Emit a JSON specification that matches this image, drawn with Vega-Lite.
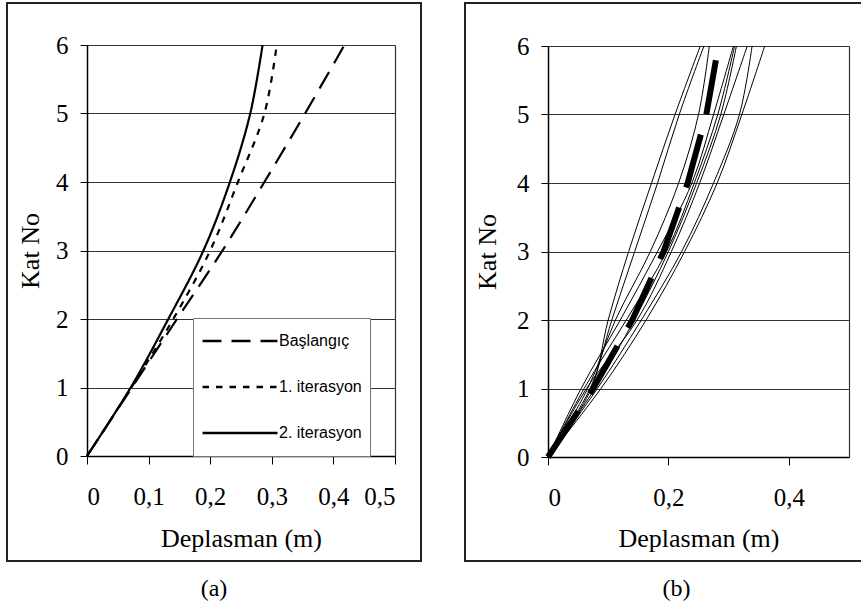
{
  "$schema": "https://vega.github.io/schema/vega-lite/v6.json",
  "padding": {"left": 6, "top": 2, "right": 0, "bottom": 0},
  "autosize": {"type": "pad"},
  "background": "white",
  "spacing": 42,
  "config": {
    "view": {"stroke": "#222", "strokeWidth": 2},
    "axis": {
      "labelFont": "Liberation Serif", "titleFont": "Liberation Serif",
      "labelColor": "black", "titleColor": "black", "titleFontWeight": "normal",
      "labelFontSize": 25, "titleFontSize": 26,
      "domainColor": "black", "domainWidth": 1.5, "tickColor": "black", "tickWidth": 1,
      "gridColor": "#333", "gridOpacity": 1, "gridWidth": 1
    },
    "legend": {"labelFont": "Liberation Sans", "labelFontSize": 16, "labelColor": "black"},
    "title": {"font": "Liberation Serif", "fontSize": 24, "fontWeight": "normal", "color": "black"}
  },
  "datasets": {
    "a": [
      {"s": "Başlangıç", "kat": 0, "d": 0}, {"s": "Başlangıç", "kat": 1, "d": 0.073}, {"s": "Başlangıç", "kat": 2, "d": 0.146},
      {"s": "Başlangıç", "kat": 3, "d": 0.220}, {"s": "Başlangıç", "kat": 4, "d": 0.288}, {"s": "Başlangıç", "kat": 5, "d": 0.354},
      {"s": "Başlangıç", "kat": 6, "d": 0.418},
      {"s": "1. iterasyon", "kat": 0, "d": 0}, {"s": "1. iterasyon", "kat": 1, "d": 0.072}, {"s": "1. iterasyon", "kat": 2, "d": 0.140},
      {"s": "1. iterasyon", "kat": 3, "d": 0.200}, {"s": "1. iterasyon", "kat": 4, "d": 0.245}, {"s": "1. iterasyon", "kat": 5, "d": 0.288},
      {"s": "1. iterasyon", "kat": 6, "d": 0.308},
      {"s": "2. iterasyon", "kat": 0, "d": 0}, {"s": "2. iterasyon", "kat": 1, "d": 0.071}, {"s": "2. iterasyon", "kat": 2, "d": 0.132},
      {"s": "2. iterasyon", "kat": 3, "d": 0.189}, {"s": "2. iterasyon", "kat": 4, "d": 0.232}, {"s": "2. iterasyon", "kat": 5, "d": 0.265},
      {"s": "2. iterasyon", "kat": 6, "d": 0.285}
    ],
    "b": [
      {"id": 1, "kat": 0, "d": 0}, {"id": 1, "kat": 1, "d": 0.072}, {"id": 1, "kat": 2, "d": 0.100}, {"id": 1, "kat": 3, "d": 0.134}, {"id": 1, "kat": 4, "d": 0.172}, {"id": 1, "kat": 5, "d": 0.211}, {"id": 1, "kat": 6, "d": 0.253},
      {"id": 2, "kat": 0, "d": 0}, {"id": 2, "kat": 1, "d": 0.070}, {"id": 2, "kat": 2, "d": 0.106}, {"id": 2, "kat": 3, "d": 0.144}, {"id": 2, "kat": 4, "d": 0.182}, {"id": 2, "kat": 5, "d": 0.218}, {"id": 2, "kat": 6, "d": 0.259},
      {"id": 3, "kat": 0, "d": 0}, {"id": 3, "kat": 1, "d": 0.066}, {"id": 3, "kat": 2, "d": 0.112}, {"id": 3, "kat": 3, "d": 0.170}, {"id": 3, "kat": 4, "d": 0.217}, {"id": 3, "kat": 5, "d": 0.250}, {"id": 3, "kat": 6, "d": 0.268},
      {"id": 4, "kat": 0, "d": 0}, {"id": 4, "kat": 1, "d": 0.055}, {"id": 4, "kat": 2, "d": 0.120}, {"id": 4, "kat": 3, "d": 0.182}, {"id": 4, "kat": 4, "d": 0.239}, {"id": 4, "kat": 5, "d": 0.275}, {"id": 4, "kat": 6, "d": 0.308},
      {"id": 5, "kat": 0, "d": 0}, {"id": 5, "kat": 1, "d": 0.060}, {"id": 5, "kat": 2, "d": 0.130}, {"id": 5, "kat": 3, "d": 0.197}, {"id": 5, "kat": 4, "d": 0.243}, {"id": 5, "kat": 5, "d": 0.282}, {"id": 5, "kat": 6, "d": 0.310},
      {"id": 6, "kat": 0, "d": 0}, {"id": 6, "kat": 1, "d": 0.078}, {"id": 6, "kat": 2, "d": 0.143}, {"id": 6, "kat": 3, "d": 0.200}, {"id": 6, "kat": 4, "d": 0.247}, {"id": 6, "kat": 5, "d": 0.287}, {"id": 6, "kat": 6, "d": 0.313},
      {"id": 7, "kat": 0, "d": 0}, {"id": 7, "kat": 1, "d": 0.064}, {"id": 7, "kat": 2, "d": 0.148}, {"id": 7, "kat": 3, "d": 0.205}, {"id": 7, "kat": 4, "d": 0.252}, {"id": 7, "kat": 5, "d": 0.292}, {"id": 7, "kat": 6, "d": 0.331},
      {"id": 8, "kat": 0, "d": 0}, {"id": 8, "kat": 1, "d": 0.082}, {"id": 8, "kat": 2, "d": 0.155}, {"id": 8, "kat": 3, "d": 0.222}, {"id": 8, "kat": 4, "d": 0.275}, {"id": 8, "kat": 5, "d": 0.318}, {"id": 8, "kat": 6, "d": 0.339},
      {"id": 9, "kat": 0, "d": 0}, {"id": 9, "kat": 1, "d": 0.088}, {"id": 9, "kat": 2, "d": 0.163}, {"id": 9, "kat": 3, "d": 0.227}, {"id": 9, "kat": 4, "d": 0.281}, {"id": 9, "kat": 5, "d": 0.322}, {"id": 9, "kat": 6, "d": 0.360}
    ],
    "bm": [
      {"kat": 0, "d": 0}, {"kat": 1, "d": 0.075}, {"kat": 2, "d": 0.140}, {"kat": 3, "d": 0.192},
      {"kat": 4, "d": 0.232}, {"kat": 5, "d": 0.263}, {"kat": 6, "d": 0.283}
    ]
  },
  "hconcat": [
    {
      "width": 414,
      "height": 558,
      "title": {"text": "(a)", "orient": "bottom", "frame": "group", "offset": 16, "anchor": "middle"},
      "data": {"name": "a"},
      "encoding": {
        "x": {
          "field": "d", "type": "quantitative",
          "scale": {"domain": [0, 0.5], "range": [80, 388], "nice": false, "zero": false},
          "axis": {
            "orient": "bottom", "offset": -105,
            "values": [0, 0.1, 0.2, 0.3, 0.4, 0.5],
            "labelExpr": "replace(format(datum.value, '.1~f'), '.', ',')",
            "labelFont": "Liberation Serif", "labelFontSize": 25, "labelColor": "black",
            "tickSize": 8, "labelPadding": 20,
            "title": "Deplasman (m)", "titleY": 90, "titleBaseline": "alphabetic",
            "titleFont": "Liberation Serif", "titleFontSize": 26,
            "grid": false
          }
        },
        "strokeDash": {
          "field": "s", "type": "nominal",
          "scale": {"domain": ["Başlangıç", "1. iterasyon", "2. iterasyon"], "range": [[19, 10], [6.5, 7], [1, 0]]},
          "legend": {
            "title": null, "orient": "none", "direction": "vertical",
            "legendX": 186, "legendY": 315,
            "symbolType": "stroke", "symbolSize": 5625, "symbolStrokeWidth": 2.6, "symbolStrokeColor": "black",
            "labelFont": "Liberation Sans", "labelFontSize": 16, "labelColor": "black",
            "labelOffset": 0, "labelLimit": 200,
            "padding": 8, "rowPadding": 16, "clipHeight": 30,
            "strokeColor": "#777", "fillColor": "white"
          }
        },
        "order": {"field": "kat", "type": "quantitative"}
      },
      "layer": [
        {
          "transform": [{"filter": "datum.s != '2. iterasyon'"}],
          "mark": {"type": "line", "interpolate": "catmull-rom", "color": "black", "strokeWidth": 2.2},
          "encoding": {
            "y": {
              "field": "kat", "type": "quantitative",
              "scale": {"domain": [0, 6], "range": [453, 42], "nice": false},
              "axis": {
                "orient": "left", "offset": -80, "values": [0, 1, 2, 3, 4, 5, 6],
                "labelFont": "Liberation Serif", "labelFontSize": 25, "labelColor": "black",
                "tickSize": 7, "labelPadding": 12,
                "title": "Kat No", "titleX": -49, "titleBaseline": "alphabetic",
                "titleFont": "Liberation Serif", "titleFontSize": 26,
                "grid": true
              }
            }
          }
        },
        {
          "transform": [{"filter": "datum.s == '2. iterasyon'"}],
          "mark": {"type": "line", "interpolate": "catmull-rom", "color": "black", "strokeWidth": 2.2},
          "encoding": {
            "y": {
              "field": "kat", "type": "quantitative",
              "axis": {
                "orient": "right", "offset": -26, "labels": false, "ticks": false, "grid": false,
                "title": null, "domainColor": "#333", "domainWidth": 1.2
              }
            }
          }
        }
      ],
      "resolve": {"axis": {"y": "independent"}}
    },
    {
      "width": 399,
      "height": 558,
      "title": {"text": "(b)", "orient": "bottom", "frame": "group", "offset": 16, "anchor": "middle", "dx": 12},
      "encoding": {
        "x": {
          "field": "d", "type": "quantitative",
          "scale": {"domain": [0, 0.5], "range": [83, 384], "nice": false, "zero": false},
          "axis": {
            "orient": "bottom", "offset": -104,
            "values": [0, 0.2, 0.4],
            "labelExpr": "replace(format(datum.value, '.1~f'), '.', ',')",
            "labelFont": "Liberation Serif", "labelFontSize": 25, "labelColor": "black",
            "tickSize": 8, "labelPadding": 20,
            "title": "Deplasman (m)", "titleY": 89, "titleBaseline": "alphabetic",
            "titleFont": "Liberation Serif", "titleFontSize": 26,
            "grid": false
          }
        },
        "order": {"field": "kat", "type": "quantitative"}
      },
      "layer": [
        {
          "data": {"name": "b"},
          "mark": {"type": "line", "interpolate": "catmull-rom", "color": "black", "strokeWidth": 1},
          "encoding": {
            "detail": {"field": "id", "type": "nominal"},
            "y": {
              "field": "kat", "type": "quantitative",
              "scale": {"domain": [0, 6], "range": [454, 43], "nice": false},
              "axis": {
                "orient": "left", "offset": -83, "values": [0, 1, 2, 3, 4, 5, 6],
                "labelFont": "Liberation Serif", "labelFontSize": 25, "labelColor": "black",
                "tickSize": 7, "labelPadding": 12,
                "title": "Kat No", "titleX": -53, "titleBaseline": "alphabetic",
                "titleFont": "Liberation Serif", "titleFontSize": 26,
                "grid": true
              }
            }
          }
        },
        {
          "data": {"name": "bm"},
          "mark": {"type": "line", "color": "black", "strokeWidth": 6, "strokeDash": [55, 21]},
          "encoding": {
            "y": {
              "field": "kat", "type": "quantitative",
              "axis": {
                "orient": "right", "offset": -15, "labels": false, "ticks": false, "grid": false,
                "title": null, "domainColor": "#333", "domainWidth": 1.2
              }
            }
          }
        }
      ],
      "resolve": {"axis": {"y": "independent"}}
    }
  ]
}
